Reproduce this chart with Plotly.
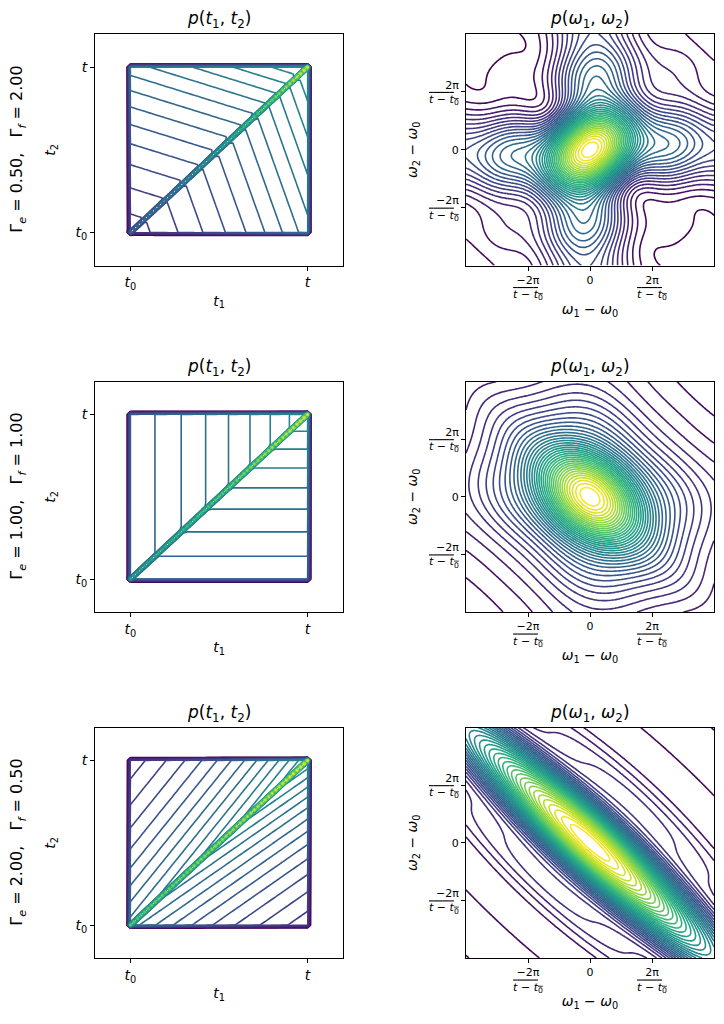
import numpy as np
import plotly.graph_objects as go
from plotly.subplots import make_subplots

# decay rates of the three rows
gamma_e = [0.5, 1.0, 2.0]
gamma_f = [2.0, 1.0, 0.5]
row_labels = ["Γ<sub><i>e</i></sub> = 0.50,   Γ<sub><i>f</i></sub> = 2.00",
              "Γ<sub><i>e</i></sub> = 1.00,   Γ<sub><i>f</i></sub> = 1.00",
              "Γ<sub><i>e</i></sub> = 2.00,   Γ<sub><i>f</i></sub> = 0.50"]

window = 1.0          # t - t0
n_step = 50           # time grid points per window (left column)
rate_scale = 12.0     # spectral line widths in units of 1/(t - t0)
rate_power = 1.3
level_power = 0.75    # spectra drawn as p**level_power
n_fine = 300          # time samples used for the spectra
idx = np.arange(-10, n_step + 11)
t_grid = idx * window / n_step
w_grid = np.linspace(-4 * np.pi, 4 * np.pi, 121) / window

t_ticks = [0.0, window]
t_ticktext = ["<i>t</i><sub>0</sub>", "<i>t</i>"]
w_ticks = [-2 * np.pi / window, 0.0, 2 * np.pi / window]
frac = "2π<br><span style='text-decoration:overline'><i>t</i> − <i>t</i><sub>0</sub></span>"
w_ticktext = ["−" + frac, "0", frac]


def envelope(s1, s2, ge, gf):
    # s = t - t_i, time left before the end of the window
    late = np.minimum(s1, s2)
    early = np.maximum(s1, s2)
    return np.exp(-gf * late / 2 - ge * (early - late) / 2)


def time_map(ge, gf):
    i1, i2 = np.meshgrid(idx, idx)          # rows: t2, cols: t1
    s1 = window - i1 * window / n_step
    s2 = window - i2 * window / n_step
    a = envelope(s1, s2, ge, gf)
    inside = (i1 >= 0) & (i1 <= n_step) & (i2 >= 0) & (i2 <= n_step)
    a = np.where(inside, a, 0.0)
    return np.where(i1 == i2, 2 * a, a)


def spectrum(ge, gf):
    s = (np.arange(n_fine) + 0.5) * window / n_fine
    s1, s2 = np.meshgrid(s, s)
    a = envelope(s1, s2, rate_scale * ge ** rate_power / window,
                 rate_scale * gf ** rate_power / window)
    e = np.exp(-1j * np.outer(w_grid, s)) * window / n_fine
    p = np.abs(e @ a @ e.T) ** 2
    p = p / p.max()
    return p ** level_power


# page is drawn with an 8 px body margin
W, H, OFF = 716, 1016, 8


def px_x(x):
    return (x - OFF) / W


def px_y(y):
    return 1 - (y - OFF) / H


fig = make_subplots(rows=3, cols=2)

x_left = [px_x(95), px_x(343)]
x_right = [px_x(466), px_x(714)]
y_rows = [[px_y(265.5), px_y(34)],
          [px_y(612), px_y(381.5)],
          [px_y(958), px_y(727.5)]]

for r in range(3):
    ge, gf = gamma_e[r], gamma_f[r]
    z_t = time_map(ge, gf)
    fig.add_trace(go.Contour(
        x=t_grid, y=t_grid, z=z_t,
        colorscale="Viridis", showscale=False,
        contours=dict(coloring="lines", start=0.05, end=z_t.max(), size=0.05),
        zmin=0.05, zmax=z_t.max(),
        line=dict(width=1.6, smoothing=0), hoverinfo="skip"),
        row=r + 1, col=1)

    z_w = spectrum(ge, gf)
    fig.add_trace(go.Contour(
        x=w_grid, y=w_grid, z=z_w,
        colorscale="Viridis", showscale=False,
        contours=dict(coloring="lines", start=0.025, end=0.999, size=0.025),
        zmin=0.025, zmax=1.0,
        line=dict(width=1.6, smoothing=1), hoverinfo="skip"),
        row=r + 1, col=2)

axis_style = dict(showline=True, mirror=True, linecolor="black", linewidth=1,
                  ticks="outside", ticklen=4, tickcolor="black", showgrid=False,
                  zeroline=False, automargin=False)
title_font = dict(size=14, color="black")

for r in range(3):
    n = 2 * r + 1
    fig.update_layout(**{
        f"xaxis{n}": dict(domain=x_left, range=[-0.2 * window, 1.2 * window],
                          tickvals=t_ticks, ticktext=t_ticktext,
                          tickfont=dict(size=14, color="black"),
                          title=dict(text="<i>t</i><sub>1</sub>", standoff=4, font=title_font),
                          **axis_style),
        f"yaxis{n}": dict(domain=y_rows[r], range=[-0.2 * window, 1.2 * window],
                          tickvals=t_ticks, ticktext=t_ticktext,
                          tickfont=dict(size=14, color="black"),
                          title=dict(text="<i>t</i><sub>2</sub>", standoff=16, font=title_font),
                          **axis_style),
        f"xaxis{n + 1}": dict(domain=x_right, range=[w_grid[0], w_grid[-1]],
                              tickvals=w_ticks, ticktext=w_ticktext,
                              tickfont=dict(size=11, color="black"),
                              title=dict(text="<i>ω</i><sub>1</sub> − <i>ω</i><sub>0</sub>",
                                         standoff=2, font=title_font),
                              **axis_style),
        f"yaxis{n + 1}": dict(domain=y_rows[r], range=[w_grid[0], w_grid[-1]],
                              tickvals=w_ticks, ticktext=w_ticktext,
                              tickfont=dict(size=11, color="black"),
                              title=dict(text="<i>ω</i><sub>2</sub> − <i>ω</i><sub>0</sub>",
                                         standoff=8, font=title_font),
                              **axis_style),
    })
    y_top = y_rows[r][1]
    y_mid = sum(y_rows[r]) / 2
    fig.add_annotation(text="<i>p</i>(<i>t</i><sub>1</sub>, <i>t</i><sub>2</sub>)",
                       x=sum(x_left) / 2, y=y_top, xref="paper", yref="paper",
                       xanchor="center", yanchor="bottom", yshift=1, showarrow=False,
                       font=dict(size=17, color="black"))
    fig.add_annotation(text="<i>p</i>(<i>ω</i><sub>1</sub>, <i>ω</i><sub>2</sub>)",
                       x=sum(x_right) / 2, y=y_top, xref="paper", yref="paper",
                       xanchor="center", yanchor="bottom", yshift=1, showarrow=False,
                       font=dict(size=17, color="black"))
    fig.add_annotation(text=row_labels[r], textangle=-90,
                       x=px_x(18), y=y_mid, xref="paper", yref="paper",
                       xanchor="center", yanchor="middle", showarrow=False,
                       font=dict(size=16, color="black"))

fig.update_layout(width=W, height=H, margin=dict(l=0, r=0, t=0, b=0),
                  plot_bgcolor="white", paper_bgcolor="white",
                  font=dict(family="DejaVu Sans", color="black"), showlegend=False)

fig.write_html("out.html")
